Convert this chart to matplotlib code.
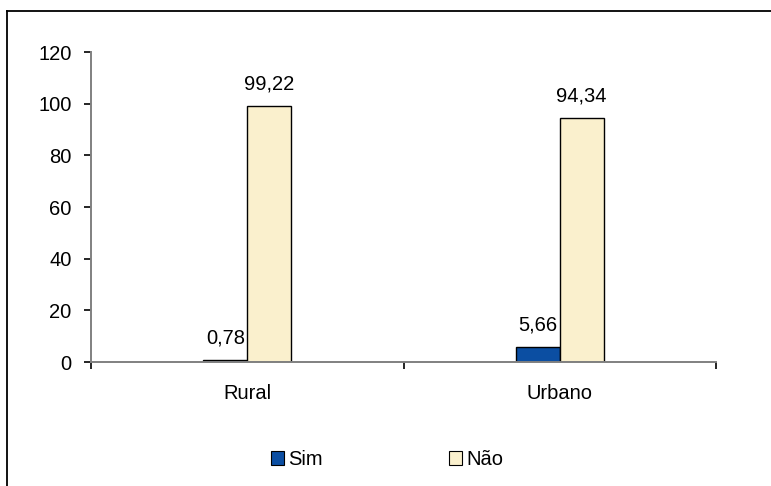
import matplotlib.pyplot as plt
from matplotlib.lines import Line2D
from matplotlib.patches import Patch

plt.rcParams['font.family'] = ['Liberation Sans', 'DejaVu Sans']

categories = ['Rural', 'Urbano']
sim = [0.78, 5.66]
nao = [99.22, 94.34]
sim_labels = ['0,78', '5,66']
nao_labels = ['99,22', '94,34']
yticks = [0, 20, 40, 60, 80, 100, 120]

c_sim = '#0B4EA2'
c_nao = '#FAF0CD'
fs = 14.5

fig = plt.figure(figsize=(7.71, 4.86), dpi=100)
ax = fig.add_axes([0.118, 0.2551, 0.8107, 0.6379])

centers = [0.5, 1.5]
w = 0.14
b1 = ax.bar([c - w / 2 for c in centers], sim, width=w, color=c_sim,
            edgecolor='black', linewidth=1.0)
b2 = ax.bar([c + w / 2 for c in centers], nao, width=w, color=c_nao,
            edgecolor='black', linewidth=1.0)

for bars, labs in ((b1, sim_labels), (b2, nao_labels)):
    for rect, lab in zip(bars, labs):
        ax.annotate(lab, (rect.get_x() + rect.get_width() / 2, rect.get_height()),
                    xytext=(0, 12), textcoords='offset points',
                    ha='center', va='baseline', fontsize=fs)

ax.set_xlim(0, 2)
ax.set_ylim(0, 120)
ax.set_yticks(yticks)
ax.set_yticklabels([str(t) for t in yticks])
ax.set_xticks([0, 1, 2])
ax.set_xticklabels(['', '', ''])
ax.set_xticks(centers, minor=True)
ax.set_xticklabels(categories, minor=True)
ax.tick_params(axis='x', which='minor', length=0, pad=16, labelsize=fs)
ax.tick_params(axis='x', which='major', length=5, width=1.2, color='black')
ax.tick_params(axis='y', length=5, width=1.2, color='black', pad=9, labelsize=fs)

for s in ('top', 'right'):
    ax.spines[s].set_visible(False)
for s in ('left', 'bottom'):
    ax.spines[s].set_color('#808080')
    ax.spines[s].set_linewidth(1.4)

handles = [Patch(facecolor=c_sim, edgecolor='black', linewidth=0.8),
           Patch(facecolor=c_nao, edgecolor='black', linewidth=0.8)]
fig.legend(handles, ['Sim', 'Não'], loc='center', bbox_to_anchor=(0.502, 0.054),
           ncol=2, frameon=False, fontsize=fs, handlelength=0.65,
           handleheight=0.65, handletextpad=0.2, columnspacing=6.25)

# outer chart frame (only top/left edges fall inside the image)
H, W = 486, 771
fig.add_artist(Line2D([6.5 / W, 1], [1 - 11 / H, 1 - 11 / H], color='black', lw=1.3,
                      transform=fig.transFigure))
fig.add_artist(Line2D([6.5 / W, 6.5 / W], [0, 1 - 11 / H], color='black', lw=1.3,
                      transform=fig.transFigure))

fig.savefig('out.png', dpi=100)
